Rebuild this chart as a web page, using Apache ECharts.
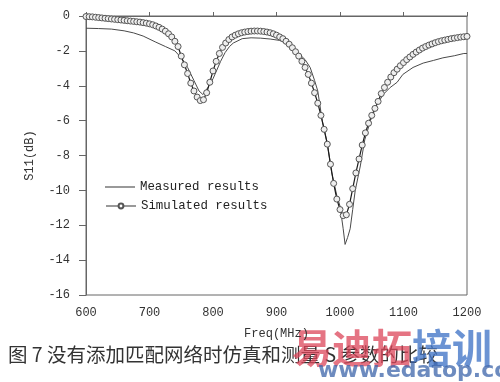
<!DOCTYPE html>
<html>
<head>
<meta charset="utf-8">
<script src="https://cdn.jsdelivr.net/npm/echarts@6/dist/echarts.min.js"></script>
<style>html,body{margin:0;padding:0;background:#fff}#c{width:500px;height:382px}</style>
</head>
<body>
<div id="c"></div>
<script>
// Measured results: [freq MHz, S11 dB]
const measuredFreq = [600,620,640,660,675,690,710,725,740,750,760,770,778,784,792,800,806,812,819,826,832,846,860,875,890,905,920,935,945,953,960,965,972,980,987,995,1000,1005,1008,1012,1016,1020,1024,1032,1039,1048,1058,1068,1079,1090,1099,1115,1131,1147,1162,1180,1195,1200];
const measuredS11 = [-0.7,-0.72,-0.75,-0.85,-0.97,-1.15,-1.5,-1.75,-2.0,-2.4,-2.95,-3.7,-4.3,-4.5,-4.1,-3.6,-3.1,-2.6,-2.1,-1.75,-1.55,-1.3,-1.25,-1.27,-1.32,-1.4,-1.65,-2.15,-2.5,-2.95,-3.7,-4.3,-6.0,-7.3,-9.0,-10.3,-10.9,-12.2,-13.1,-12.7,-12.2,-11.1,-10.0,-8.6,-7.1,-6.0,-5.1,-4.5,-4.1,-3.8,-3.35,-2.95,-2.7,-2.55,-2.4,-2.28,-2.15,-2.15];

// Simulated results
const simFreq = [600,605,610,615,620,625,630,635,640,645,650,655,660,665,670,675,680,685,690,695,700,705,710,715,720,725,730,735,740,745,750,755,760,765,770,775,780,785,790,795,800,805,810,815,820,825,830,835,840,845,850,855,860,865,870,875,880,885,890,895,900,905,910,915,920,925,930,935,940,945,950,955,960,965,970,975,980,985,990,995,1000,1005,1010,1015,1020,1025,1030,1035,1040,1045,1050,1055,1060,1065,1070,1075,1080,1085,1090,1095,1100,1105,1110,1115,1120,1125,1130,1135,1140,1145,1150,1155,1160,1165,1170,1175,1180,1185,1190,1195,1200];
const simS11 = [-0.03,-0.04,-0.05,-0.07,-0.09,-0.11,-0.13,-0.15,-0.17,-0.19,-0.21,-0.23,-0.25,-0.27,-0.29,-0.31,-0.33,-0.35,-0.38,-0.41,-0.45,-0.5,-0.57,-0.65,-0.75,-0.87,-1.02,-1.2,-1.45,-1.75,-2.3,-2.8,-3.3,-3.85,-4.3,-4.65,-4.85,-4.8,-4.4,-3.8,-3.15,-2.6,-2.15,-1.8,-1.55,-1.35,-1.2,-1.1,-1.02,-0.96,-0.92,-0.89,-0.87,-0.86,-0.86,-0.87,-0.89,-0.92,-0.96,-1.02,-1.1,-1.2,-1.3,-1.45,-1.62,-1.82,-2.05,-2.3,-2.6,-2.95,-3.35,-3.85,-4.4,-5.0,-5.7,-6.5,-7.35,-8.5,-9.6,-10.5,-11.1,-11.45,-11.4,-10.8,-9.9,-9.0,-8.2,-7.4,-6.7,-6.15,-5.7,-5.3,-4.9,-4.45,-4.1,-3.8,-3.5,-3.25,-3.05,-2.85,-2.67,-2.5,-2.35,-2.2,-2.07,-1.95,-1.84,-1.75,-1.67,-1.6,-1.53,-1.47,-1.42,-1.38,-1.34,-1.3,-1.27,-1.24,-1.21,-1.19,-1.17];

const xTicks = {min: 600, max: 1200, step: 100};
const yTicks = {min: -16, max: 0, step: 2};

const labelFont = {fontFamily: 'Liberation Mono', fontSize: 12, color: '#333'};
const legendText = {fontFamily: 'Liberation Mono', fontSize: 12.4, color: '#222'};

const chart = echarts.init(document.getElementById('c'), null, {renderer: 'canvas'});
chart.setOption({
  animation: false,
  backgroundColor: '#fff',
  grid: {left: 86, right: 33, top: 16, bottom: 87, show: true, borderColor: '#666', borderWidth: 1},
  legend: [
    {
      left: 100, top: 176, itemWidth: 30, itemHeight: 1, itemGap: 7, icon: 'rect',
      textStyle: legendText, data: ['Measured results']
    },
    {
      left: 100, top: 195, itemWidth: 30, itemHeight: 6,
      textStyle: legendText,
      data: [{name: 'Simulated results', itemStyle: {color: '#fff', borderColor: '#555'}, lineStyle: {color: '#999'}}]
    }
  ],
  xAxis: {
    type: 'value', min: xTicks.min, max: xTicks.max, interval: xTicks.step,
    name: 'Freq(MHz)', nameLocation: 'middle', nameGap: 33,
    nameTextStyle: labelFont,
    axisLine: {lineStyle: {color: '#666', width: 1}},
    axisTick: {inside: true, length: 4, lineStyle: {color: '#666'}},
    axisLabel: Object.assign({margin: 12, formatter: v => String(v)}, labelFont),
    splitLine: {show: false}
  },
  yAxis: {
    type: 'value', min: yTicks.min, max: yTicks.max, interval: yTicks.step,
    name: 'S11(dB)', nameLocation: 'middle', nameGap: 50, nameRotate: 90,
    nameTextStyle: labelFont,
    axisLine: {show: true, lineStyle: {color: '#666', width: 1}},
    axisTick: {show: true, inside: false, length: 7, lineStyle: {color: '#666'}},
    axisLabel: Object.assign({margin: 16, formatter: v => String(v)}, labelFont),
    splitLine: {show: false}
  },
  series: [
    {
      name: 'Measured results', type: 'line', showSymbol: false, symbol: 'none',
      lineStyle: {color: '#4a4a4a', width: 1},
      itemStyle: {color: '#333'},
      data: measuredFreq.map((f, i) => [f, measuredS11[i]])
    },
    {
      name: 'Simulated results', type: 'line', symbol: 'circle', symbolSize: 6, showSymbol: true,
      lineStyle: {color: '#1a1a1a', width: 1.2},
      itemStyle: {color: '#eee', borderColor: '#555', borderWidth: 1},
      data: simFreq.map((f, i) => [f, simS11[i]])
    }
  ],
  graphic: [
    {type: 'text', left: 8, top: 345, style: {text: '图 7 没有添加匹配网络时仿真和测量 S 参数的比较', font: '19.5px "Noto Sans CJK SC"', fill: '#333'}},
    {type: 'text', left: 292, top: 328, style: {text: '易迪拓', font: 'bold 40px "Noto Sans CJK SC"', fill: 'rgba(220,70,90,0.75)'}},
    {type: 'text', left: 412, top: 328, style: {text: '培训', font: 'bold 40px "Noto Sans CJK SC"', fill: 'rgba(70,120,200,0.8)'}},
    {type: 'text', left: 318, top: 360, style: {text: 'www.edatop.com', font: 'bold 22px "DejaVu Sans"', fill: 'rgba(60,100,170,0.75)'}}
  ]
});
</script>
</body>
</html>
